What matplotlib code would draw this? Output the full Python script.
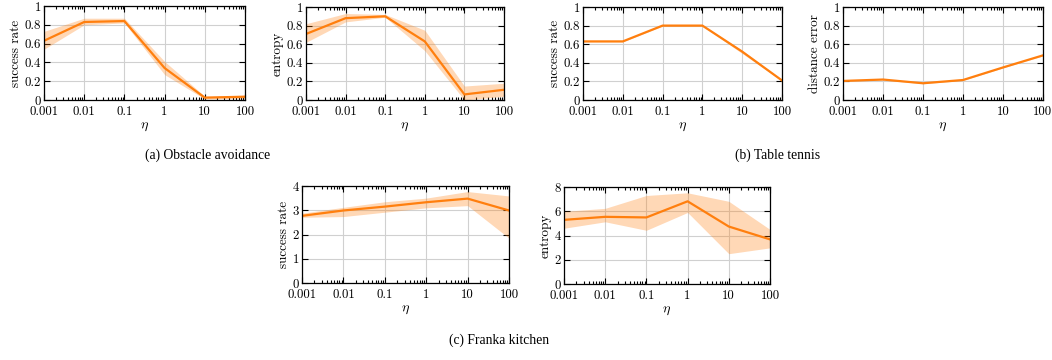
import matplotlib
matplotlib.use("Agg")
import matplotlib.pyplot as plt
import matplotlib.ticker as mticker

plt.rcParams['mathtext.fontset'] = 'cm'
plt.rcParams['font.family'] = 'cmr10'
plt.rcParams['axes.formatter.use_mathtext'] = True

eta = [0.001, 0.01, 0.1, 1, 10, 100]
eta_labels = ['0.001', '0.01', '0.1', '1', '10', '100']

# (a) Obstacle avoidance
oa_success = [0.63, 0.83, 0.84, 0.34, 0.025, 0.035]
oa_success_lo = [0.54, 0.80, 0.82, 0.27, 0.01, 0.02]
oa_success_hi = [0.73, 0.87, 0.87, 0.41, 0.04, 0.05]
oa_entropy = [0.71, 0.88, 0.90, 0.63, 0.06, 0.11]
oa_entropy_lo = [0.62, 0.84, 0.89, 0.53, 0.0, 0.04]
oa_entropy_hi = [0.82, 0.93, 0.92, 0.75, 0.15, 0.18]

# (b) Table tennis
tt_success = [0.63, 0.63, 0.80, 0.80, 0.52, 0.21]
tt_success_lo = [0.625, 0.625, 0.795, 0.795, 0.50, 0.205]
tt_success_hi = [0.635, 0.635, 0.805, 0.805, 0.535, 0.215]
tt_dist = [0.205, 0.22, 0.18, 0.215, 0.35, 0.48]
tt_dist_lo = [0.20, 0.215, 0.175, 0.21, 0.345, 0.475]
tt_dist_hi = [0.21, 0.225, 0.185, 0.22, 0.355, 0.485]

# (c) Franka kitchen
fk_success = [2.77, 2.99, 3.15, 3.33, 3.48, 2.99]
fk_success_lo = [2.71, 2.74, 2.92, 3.10, 3.19, 1.85]
fk_success_hi = [2.88, 3.12, 3.35, 3.50, 3.77, 3.59]
fk_entropy = [5.29, 5.54, 5.49, 6.82, 4.74, 3.68]
fk_entropy_lo = [4.60, 5.13, 4.43, 5.90, 2.50, 2.98]
fk_entropy_hi = [5.99, 6.24, 7.30, 7.52, 6.82, 4.50]

W, H = 1052, 360
fig = plt.figure(figsize=(W / 100, H / 100), dpi=100)

orange = '#ff7f0e'

panels = [
    ((44, 245, 6, 100), oa_success, oa_success_lo, oa_success_hi, 'success rate', 1, [0, 0.2, 0.4, 0.6, 0.8, 1], ['0', '0.2', '0.4', '0.6', '0.8', '1']),
    ((306, 504, 7, 100), oa_entropy, oa_entropy_lo, oa_entropy_hi, 'entropy', 1, [0, 0.2, 0.4, 0.6, 0.8, 1], ['0', '0.2', '0.4', '0.6', '0.8', '1']),
    ((583, 782, 7, 100), tt_success, tt_success_lo, tt_success_hi, 'success rate', 1, [0, 0.2, 0.4, 0.6, 0.8, 1], ['0', '0.2', '0.4', '0.6', '0.8', '1']),
    ((843, 1043, 7, 100), tt_dist, tt_dist_lo, tt_dist_hi, 'distance error', 1, [0, 0.2, 0.4, 0.6, 0.8, 1], ['0', '0.2', '0.4', '0.6', '0.8', '1']),
    ((302, 509, 186, 283), fk_success, fk_success_lo, fk_success_hi, 'success rate', 4, [0, 1, 2, 3, 4], ['0', '1', '2', '3', '4']),
    ((564, 770, 187, 284), fk_entropy, fk_entropy_lo, fk_entropy_hi, 'entropy', 8, [0, 2, 4, 6, 8], ['0', '2', '4', '6', '8']),
]

for (x0, x1, y0, y1), y, lo, hi, ylab, ymax, yt, ytl in panels:
    ax = fig.add_axes([x0 / W, 1 - y1 / H, (x1 - x0) / W, (y1 - y0) / H])
    ax.fill_between(eta, lo, hi, color=orange, alpha=0.3, linewidth=0)
    ax.plot(eta, y, color=orange, linewidth=1.6)
    ax.set_xscale('log')
    ax.set_xlim(0.001, 100)
    ax.set_ylim(0, ymax)
    ax.set_xticks(eta)
    ax.set_xticklabels(eta_labels)
    ax.xaxis.set_minor_locator(mticker.LogLocator(base=10, subs=range(2, 10), numticks=20))
    ax.xaxis.set_minor_formatter(mticker.NullFormatter())
    ax.set_yticks(yt)
    ax.set_yticklabels(ytl)
    ax.grid(True, which='major', color='#d0d0d0', linewidth=0.8)
    ax.set_axisbelow(True)
    ax.tick_params(which='both', direction='in', top=True, right=True, labelsize=9.3, width=0.8)
    ax.tick_params(axis='x', pad=4)
    ax.tick_params(axis='y', pad=2)
    ax.tick_params(which='major', length=4)
    ax.tick_params(which='minor', length=2)
    for s in ax.spines.values():
        s.set_linewidth(0.9)
    ax.set_ylabel(ylab, fontsize=9.5, labelpad=2)
    ax.set_xlabel(r'$\eta$', fontsize=10, labelpad=2)

cap_font = dict(family='Liberation Serif', fontsize=9.8, ha='center', va='center')
fig.text(208 / W, 1 - 155 / H, '(a) Obstacle avoidance', **cap_font)
fig.text(778 / W, 1 - 155 / H, '(b) Table tennis', **cap_font)
fig.text(499 / W, 1 - 340 / H, '(c) Franka kitchen', **cap_font)

fig.savefig('out.png', dpi=100)
